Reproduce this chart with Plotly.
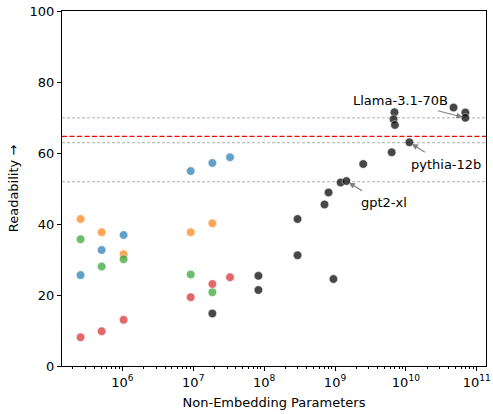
import math
import plotly.graph_objects as go

# ---- data ----
blue_x = [2.57e5, 5.1e5, 1.04e6, 9.2e6, 1.86e7, 3.3e7]
blue_y = [25.6, 32.7, 36.9, 54.9, 57.2, 58.8]
orange_x = [2.57e5, 5.1e5, 1.04e6, 9.2e6, 1.86e7]
orange_y = [41.4, 37.7, 31.5, 37.7, 40.2]
green_x = [2.57e5, 5.1e5, 1.04e6, 9.2e6, 1.86e7]
green_y = [35.7, 28.0, 30.1, 25.8, 20.8]
red_x = [2.57e5, 5.1e5, 1.04e6, 9.2e6, 1.86e7, 3.3e7]
red_y = [8.1, 9.8, 13.0, 19.4, 23.1, 25.0]
black_x = [1.86e7, 8.3e7, 8.3e7, 2.96e8, 2.96e8, 7.1e8, 8.1e8, 9.5e8, 1.2e9, 1.45e9,
           2.5e9, 6.3e9, 6.9e9, 6.7e9, 7.0e9, 1.12e10, 4.7e10, 6.9e10, 6.9e10]
black_y = [14.8, 25.4, 21.4, 41.4, 31.2, 45.5, 48.9, 24.5, 51.7, 52.1,
           56.9, 60.2, 71.5, 69.5, 67.9, 63.0, 72.8, 71.4, 69.9]

ref_gray_levels = [69.9, 62.9, 51.9]
ref_red_level = 64.7

labels = ["Llama-3.1-70B", "pythia-12b", "gpt2-xl"]
label_pts_x = [6.9e10, 1.12e10, 1.45e9]
label_pts_y = [69.9, 63.0, 52.1]
label_text_x = [8.3e9, 3.7e10, 4.9e9]
label_text_y = [74.9, 56.9, 46.0]
arrow_ax = [-31, 19, 19]
arrow_ay = [-8, 12, 12]

major_ticks = [1e6, 1e7, 1e8, 1e9, 1e10, 1e11]
major_text = ["10<sup>6</sup>", "10<sup>7</sup>", "10<sup>8</sup>",
              "10<sup>9</sup>", "10<sup>10</sup>", "10<sup>11</sup>"]
y_ticks = [0, 20, 40, 60, 80, 100]

# ---- figure ----
fig = go.Figure()
series = [
    (blue_x, blue_y, "rgba(31,119,180,0.7)"),
    (orange_x, orange_y, "rgba(255,127,14,0.7)"),
    (green_x, green_y, "rgba(44,160,44,0.7)"),
    (red_x, red_y, "rgba(214,39,40,0.7)"),
    (black_x, black_y, "rgba(0,0,0,0.72)"),
]
for xs, ys, c in series:
    fig.add_trace(go.Scatter(x=xs, y=ys, mode="markers",
                             marker=dict(size=8.5, color=c,
                                         line=dict(width=0.6, color="rgba(255,255,255,0.8)")),
                             showlegend=False, hoverinfo="skip"))

for lv in ref_gray_levels:
    fig.add_shape(type="line", xref="paper", x0=0, x1=1, yref="y", y0=lv, y1=lv,
                  line=dict(color="rgba(128,128,128,0.8)", width=0.8, dash="3px,2px"), layer="below")
fig.add_shape(type="line", xref="paper", x0=0, x1=1, yref="y", y0=ref_red_level, y1=ref_red_level,
              line=dict(color="red", width=1.3, dash="5px,2.5px"), layer="below")

minor_vals = []
for e in range(5, 11):
    for m in range(2, 10):
        v = m * 10 ** e
        if 10 ** 5.148 <= v <= 10 ** 11.13:
            minor_vals.append(v)

for i in range(len(labels)):
    fig.add_annotation(x=math.log10(label_text_x[i]), y=label_text_y[i], text=labels[i],
                       showarrow=False, font=dict(size=13, color="black", family="DejaVu Sans"))
    fig.add_annotation(x=math.log10(label_pts_x[i]), y=label_pts_y[i], text=" ", showarrow=True,
                       ax=arrow_ax[i], ay=arrow_ay[i], arrowhead=2, arrowsize=1,
                       arrowwidth=1.2, arrowcolor="gray", standoff=3)

fig.update_layout(
    width=493, height=414,
    margin=dict(l=62, r=2, t=11, b=48),
    plot_bgcolor="white", paper_bgcolor="white",
    font=dict(family="DejaVu Sans", size=13, color="black"),
    xaxis=dict(type="log", range=[5.148, 11.13], tickmode="array",
               tickvals=major_ticks, ticktext=major_text, ticks="outside", ticklen=4,
               tickcolor="black", showgrid=False, showline=True, linecolor="black",
               linewidth=1, mirror=True, zeroline=False, ticklabeloverflow="allow",
               title=dict(text="Non-Embedding Parameters", standoff=9, font=dict(size=13)),
               minor=dict(tickmode="array", tickvals=minor_vals, ticks="outside",
                          ticklen=2, tickcolor="black", showgrid=False)),
    yaxis=dict(range=[0, 100], tickmode="array", tickvals=y_ticks, ticks="outside",
               ticklen=4, tickcolor="black", showgrid=False, showline=True,
               linecolor="black", linewidth=1, mirror=True, zeroline=False,
               title=dict(text="Readability →", standoff=8, font=dict(size=13))),
)

fig.write_html("out.html")
